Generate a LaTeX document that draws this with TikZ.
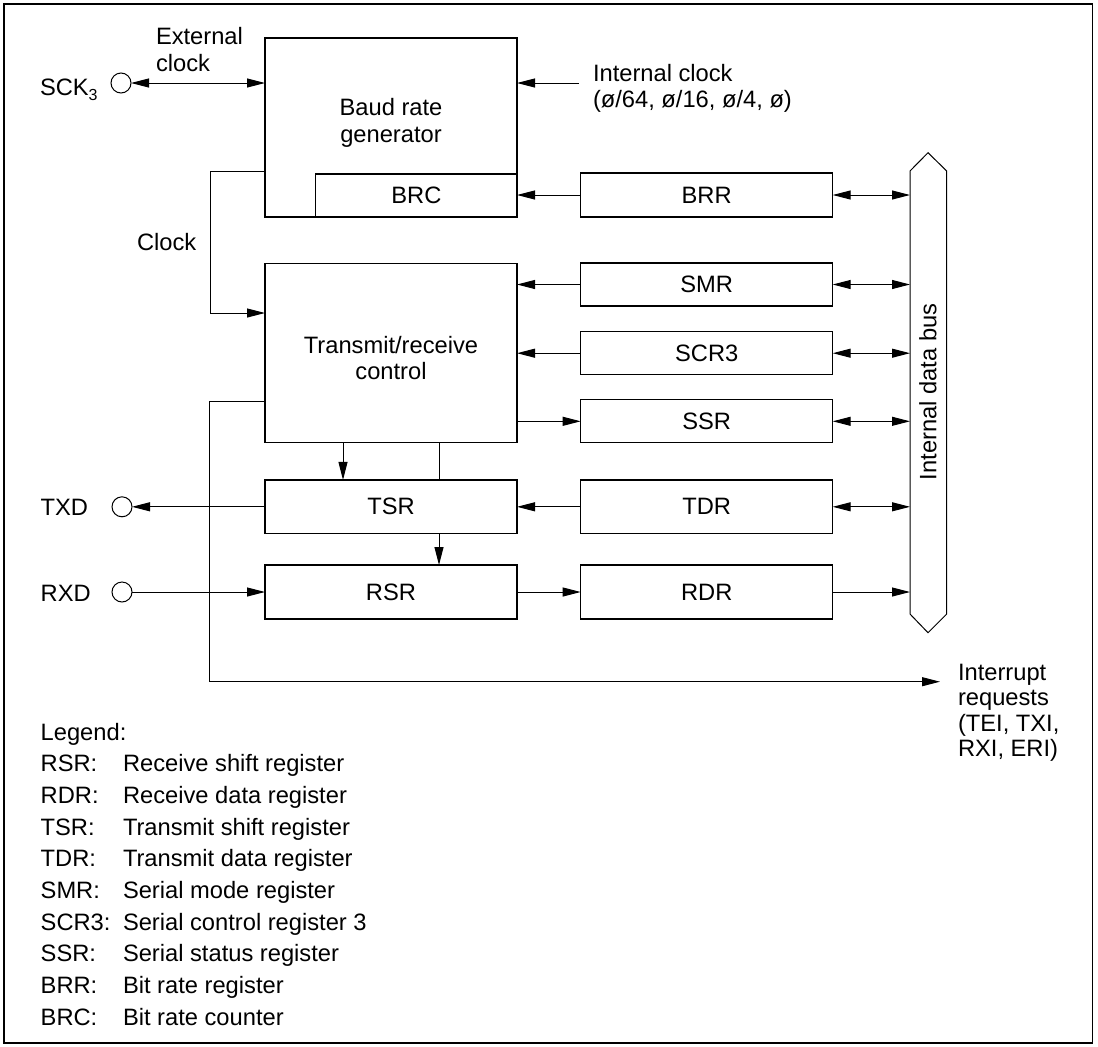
\documentclass[tikz,border=0pt]{standalone}
\usepackage{fontspec}
\setmainfont{Liberation Sans}
\usetikzlibrary{arrows.meta}
\begin{document}
\begin{tikzpicture}[x=1pt,y=-1pt,
  font=\fontsize{23.7}{26.7}\selectfont,
  regbox/.style={draw, line width=1.2pt, inner sep=0pt, outer sep=0pt},
  conn/.style={line width=1pt},
  arr/.style={conn, -{Triangle[length=18pt,width=9pt]}},
  darr/.style={conn, {Triangle[length=18pt,width=9pt]}-{Triangle[length=18pt,width=9pt]}},
  pin/.style={draw, circle, line width=1pt, minimum size=20pt, inner sep=0pt, outer sep=0pt},
  lbl/.style={inner sep=0pt, outer sep=0pt, anchor=base west},
  txt/.style={inner sep=0pt, outer sep=0pt, align=center},
]
\useasboundingbox (0,0) rectangle (1098,1047);
\draw[line width=1.5pt] (4,4) rectangle (1092.5,1043);

% boxes
\node[regbox, minimum width=252pt, minimum height=179pt] (brg) at (391,127.5) {};
\node[txt] (brgtxt) at (391,123) {Baud rate\\generator};
\node[regbox, minimum width=201.3pt, minimum height=43pt] (brc) at (416.35,195.5) {BRC};
\node[regbox, minimum width=252pt, minimum height=44pt] (brr) at (706.7,195) {BRR};
\node[regbox, minimum width=252pt, minimum height=179pt] (trc) at (391,353.2) {};
\node[txt] (trctxt) at (391,358) {Transmit/receive\\control};
\node[regbox, minimum width=252pt, minimum height=43pt] (smr) at (706.7,284.5) {SMR};
\node[regbox, minimum width=252pt, minimum height=43pt] (scr) at (706.7,353.2) {SCR3};
\node[regbox, minimum width=252pt, minimum height=43pt] (ssr) at (706.7,421.3) {SSR};
\node[regbox, minimum width=252pt, minimum height=53.7pt] (tsr) at (391,506.8) {TSR};
\node[regbox, minimum width=252pt, minimum height=53.7pt] (tdr) at (706.7,506.8) {TDR};
\node[regbox, minimum width=252pt, minimum height=54pt] (rsr) at (391,592) {RSR};
\node[regbox, minimum width=252pt, minimum height=54pt] (rdr) at (706.7,592) {RDR};

% internal data bus
\draw[line width=1pt] (910,171) -- (928,152.7) -- (946.7,171) -- (946.7,614) -- (928,632.7) -- (910,614) -- cycle;
\node[txt, rotate=90] (buslbl) at (928,392) {Internal data bus};
\coordinate (busL) at (910,392);

\foreach \n in {brr,smr,scr,ssr,tdr} \draw[darr] (\n.east) -- (\n.east -| busL);
\draw[arr] (rdr.east) -- (rdr.east -| busL);

\draw[arr] (brr.west) -- (brr.west -| brc.east);
\draw[arr] (smr.west) -- (smr.west -| trc.east);
\draw[arr] (scr.west) -- (scr.west -| trc.east);
\draw[arr] (ssr.west -| trc.east) -- (ssr.west);
\draw[arr] (tdr.west) -- (tdr.west -| tsr.east);
\draw[arr] (rsr.east) -- (rdr.west);

% TRC to TSR / RSR
\coordinate (c1) at (343,0);
\coordinate (c2) at (439,0);
\draw[arr] (trc.south -| c1) -- (tsr.north -| c1);
\draw[conn] (trc.south -| c2) -- (tsr.north -| c2);
\draw[arr] (tsr.south -| c2) -- (rsr.north -| c2);

% internal clock
\coordinate (iclk) at (579,83);
\draw[arr] (iclk) -- (iclk -| brg.east);
\node[lbl] (iclk1) at (593,81) {Internal clock};
\node[lbl] (iclk2) at (593,107) {(ø/64, ø/16, ø/4, ø)};

% external clock / SCK
\node[pin] (sck) at (121,83) {};
\node[lbl] (scktxt) at (40,95) {SCK\raisebox{-5pt}{\fontsize{16}{16}\selectfont 3}};
\draw[darr] (sck.east) -- (sck.east -| brg.west);
\node[lbl] (ext1) at (156,44.3) {External};
\node[lbl] (ext2) at (156,71) {clock};

% clock to TRC
\coordinate (ck1) at (210,171);
\coordinate (ck2) at (210,313);
\draw[arr] (brg.west |- ck1) -- (ck1) -- (ck2) -- (trc.west |- ck2);
\node[lbl] (clocktxt) at (137,250) {Clock};

% TXD / RXD
\node[pin] (txd) at (122,506.8) {};
\node[lbl] (txdtxt) at (40.7,515.8) {TXD};
\draw[arr] (tsr.west) -- (txd.east);
\node[pin] (rxd) at (122,592) {};
\node[lbl] (rxdtxt) at (40.7,601.3) {RXD};
\draw[arr] (rxd.east) -- (rsr.west);

% interrupt
\coordinate (ir1) at (209,401);
\coordinate (ir2) at (209,681.7);
\coordinate (ir3) at (940,681.7);
\draw[arr] (trc.west |- ir1) -- (ir1) -- (ir2) -- (ir3);
\node[lbl] (int1) at (958,680) {Interrupt};
\node[lbl] (int2) at (958,705.6) {requests};
\node[lbl] (int3) at (958,731.2) {(TEI, TXI,};
\node[lbl] (int4) at (958,756.8) {RXI, ERI)};

% legend
\node[lbl] (leg0) at (40.7,740) {Legend:};
\foreach \k/\a/\b [count=\i] in {RSR/RSR:/Receive shift register,
  RDR/RDR:/Receive data register,
  TSR/TSR:/Transmit shift register,
  TDR/TDR:/Transmit data register,
  SMR/SMR:/Serial mode register,
  SCR/SCR3:/Serial control register 3,
  SSR/SSR:/Serial status register,
  BRR/BRR:/Bit rate register,
  BRC/BRC:/Bit rate counter}{
  \node[lbl] (legk\k) at (40.7,740+31.67*\i) {\a};
  \node[lbl] (legd\k) at (123,740+31.67*\i) {\b};
}
\end{tikzpicture}
\end{document}
